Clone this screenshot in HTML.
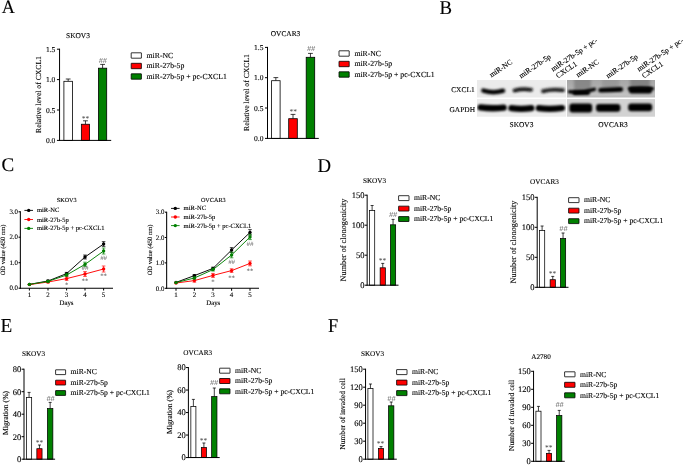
<!DOCTYPE html>
<html><head><meta charset="utf-8"><title>Figure</title>
<style>html,body{margin:0;padding:0;background:#fff;}body{width:685px;height:465px;overflow:hidden;font-family:"Liberation Serif",serif;}svg{display:block;will-change:transform;}text{text-rendering:geometricPrecision;stroke:#000;stroke-width:0.12px;}text.g{stroke:none;}</style>
</head><body>
<svg width="685" height="465" viewBox="0 0 685 465" font-family='"Liberation Serif", serif'>
<defs>
<filter id="b1" filterUnits="userSpaceOnUse" x="460" y="60" width="210" height="70"><feGaussianBlur stdDeviation="0.8"/></filter>
<filter id="b2" filterUnits="userSpaceOnUse" x="460" y="60" width="210" height="70"><feGaussianBlur stdDeviation="1.0"/></filter>
<filter id="b3" filterUnits="userSpaceOnUse" x="460" y="60" width="210" height="70"><feGaussianBlur stdDeviation="1.6"/></filter>
</defs>
<rect width="685" height="465" fill="#fff"/>
<text transform="translate(1.70,13.00) scale(1,1.035)" font-size="18.2">A</text>
<text transform="translate(439.40,14.00) scale(1,1.04)" font-size="18.8">B</text>
<text transform="translate(1.50,171.40) scale(1,1.02)" font-size="19.0">C</text>
<text transform="translate(317.50,171.70) scale(1,1.04)" font-size="18.8">D</text>
<text transform="translate(0.60,331.80) scale(1,1.03)" font-size="19.2">E</text>
<text transform="translate(327.90,331.80) scale(1,1.065)" font-size="18.4">F</text>
<line x1="68.17" y1="81.30" x2="68.17" y2="79.00" stroke="#000" stroke-width="0.75" stroke-linecap="butt"/>
<line x1="65.77" y1="79.00" x2="70.58" y2="79.00" stroke="#000" stroke-width="0.75" stroke-linecap="butt"/>
<rect x="63.90" y="81.30" width="8.55" height="59.10" fill="#fff" stroke="#000" stroke-width="0.8" />
<line x1="85.45" y1="124.25" x2="85.45" y2="120.80" stroke="#000" stroke-width="0.75" stroke-linecap="butt"/>
<line x1="83.05" y1="120.80" x2="87.85" y2="120.80" stroke="#000" stroke-width="0.75" stroke-linecap="butt"/>
<rect x="81.35" y="124.25" width="8.20" height="16.15" fill="#ff0000" stroke="#000" stroke-width="0.8" />
<line x1="102.60" y1="68.20" x2="102.60" y2="64.40" stroke="#000" stroke-width="0.75" stroke-linecap="butt"/>
<line x1="100.20" y1="64.40" x2="105.00" y2="64.40" stroke="#000" stroke-width="0.75" stroke-linecap="butt"/>
<rect x="98.50" y="68.20" width="8.20" height="72.20" fill="#008000" stroke="#000" stroke-width="0.8" />
<line x1="59.55" y1="48.70" x2="59.55" y2="140.90" stroke="#000" stroke-width="1.0" stroke-linecap="butt"/>
<line x1="59.05" y1="140.40" x2="111.20" y2="140.40" stroke="#000" stroke-width="1.0" stroke-linecap="butt"/>
<line x1="56.95" y1="49.20" x2="59.55" y2="49.20" stroke="#000" stroke-width="1.0" stroke-linecap="butt"/>
<text x="55.35" y="51.71" font-size="7.5" text-anchor="end" fill="#000" >1.5</text>
<line x1="56.95" y1="79.60" x2="59.55" y2="79.60" stroke="#000" stroke-width="1.0" stroke-linecap="butt"/>
<text x="55.35" y="82.11" font-size="7.5" text-anchor="end" fill="#000" >1.0</text>
<line x1="56.95" y1="110.00" x2="59.55" y2="110.00" stroke="#000" stroke-width="1.0" stroke-linecap="butt"/>
<text x="55.35" y="112.51" font-size="7.5" text-anchor="end" fill="#000" >0.5</text>
<line x1="56.95" y1="140.40" x2="59.55" y2="140.40" stroke="#000" stroke-width="1.0" stroke-linecap="butt"/>
<text x="55.35" y="142.91" font-size="7.5" text-anchor="end" fill="#000" >0.0</text>
<text x="78.00" y="38.20" font-size="7.4" text-anchor="middle" fill="#000" >SKOV3</text>
<text transform="translate(41.20,94.50) rotate(-90)" font-size="7.66" text-anchor="middle" fill="#000">Relative level of CXCL1</text>
<rect x="131.20" y="52.80" width="10.20" height="5.40" fill="#fff" stroke="#000" stroke-width="0.8" rx="0.2"/>
<text x="146.60" y="57.82" font-size="7.73" text-anchor="start" fill="#000" >miR-NC</text>
<rect x="131.20" y="63.30" width="10.20" height="5.40" fill="#ff0000" stroke="#000" stroke-width="0.8" rx="0.2"/>
<text x="146.60" y="68.32" font-size="7.73" text-anchor="start" fill="#000" >miR-27b-5p</text>
<rect x="131.20" y="73.80" width="10.20" height="5.40" fill="#008000" stroke="#000" stroke-width="0.8" rx="0.2"/>
<text x="146.60" y="78.82" font-size="7.73" text-anchor="start" fill="#000" >miR-27b-5p + pc-CXCL1</text>
<text x="85.40" y="120.60" font-size="7.5" text-anchor="middle" fill="#444"  class="g">**</text>
<text x="102.80" y="62.60" font-size="7.3" text-anchor="middle" fill="#555" font-style="italic" font-family="Liberation Sans, sans-serif" class="g">##</text>
<line x1="275.85" y1="80.70" x2="275.85" y2="77.60" stroke="#000" stroke-width="0.75" stroke-linecap="butt"/>
<line x1="273.45" y1="77.60" x2="278.25" y2="77.60" stroke="#000" stroke-width="0.75" stroke-linecap="butt"/>
<rect x="271.60" y="80.70" width="8.50" height="57.70" fill="#fff" stroke="#000" stroke-width="0.8" />
<line x1="293.00" y1="118.70" x2="293.00" y2="114.40" stroke="#000" stroke-width="0.75" stroke-linecap="butt"/>
<line x1="290.60" y1="114.40" x2="295.40" y2="114.40" stroke="#000" stroke-width="0.75" stroke-linecap="butt"/>
<rect x="288.70" y="118.70" width="8.60" height="19.70" fill="#ff0000" stroke="#000" stroke-width="0.8" />
<line x1="310.45" y1="57.30" x2="310.45" y2="53.40" stroke="#000" stroke-width="0.75" stroke-linecap="butt"/>
<line x1="308.05" y1="53.40" x2="312.85" y2="53.40" stroke="#000" stroke-width="0.75" stroke-linecap="butt"/>
<rect x="306.20" y="57.30" width="8.50" height="81.10" fill="#008000" stroke="#000" stroke-width="0.8" />
<line x1="267.50" y1="46.90" x2="267.50" y2="138.90" stroke="#000" stroke-width="1.0" stroke-linecap="butt"/>
<line x1="267.00" y1="138.40" x2="318.80" y2="138.40" stroke="#000" stroke-width="1.0" stroke-linecap="butt"/>
<line x1="265.00" y1="47.40" x2="267.50" y2="47.40" stroke="#000" stroke-width="1.0" stroke-linecap="butt"/>
<text x="263.40" y="49.91" font-size="7.5" text-anchor="end" fill="#000" >1.5</text>
<line x1="265.00" y1="77.70" x2="267.50" y2="77.70" stroke="#000" stroke-width="1.0" stroke-linecap="butt"/>
<text x="263.40" y="80.21" font-size="7.5" text-anchor="end" fill="#000" >1.0</text>
<line x1="265.00" y1="108.00" x2="267.50" y2="108.00" stroke="#000" stroke-width="1.0" stroke-linecap="butt"/>
<text x="263.40" y="110.51" font-size="7.5" text-anchor="end" fill="#000" >0.5</text>
<line x1="265.00" y1="138.40" x2="267.50" y2="138.40" stroke="#000" stroke-width="1.0" stroke-linecap="butt"/>
<text x="263.40" y="140.91" font-size="7.5" text-anchor="end" fill="#000" >0.0</text>
<text x="285.50" y="36.20" font-size="7.4" text-anchor="middle" fill="#000" >OVCAR3</text>
<text transform="translate(248.50,92.50) rotate(-90)" font-size="7.66" text-anchor="middle" fill="#000">Relative level of CXCL1</text>
<rect x="339.00" y="50.80" width="10.20" height="5.40" fill="#fff" stroke="#000" stroke-width="0.8" rx="0.2"/>
<text x="354.40" y="55.82" font-size="7.73" text-anchor="start" fill="#000" >miR-NC</text>
<rect x="339.00" y="61.30" width="10.20" height="5.40" fill="#ff0000" stroke="#000" stroke-width="0.8" rx="0.2"/>
<text x="354.40" y="66.32" font-size="7.73" text-anchor="start" fill="#000" >miR-27b-5p</text>
<rect x="339.00" y="71.80" width="10.20" height="5.40" fill="#008000" stroke="#000" stroke-width="0.8" rx="0.2"/>
<text x="354.40" y="76.82" font-size="7.73" text-anchor="start" fill="#000" >miR-27b-5p + pc-CXCL1</text>
<text x="293.20" y="113.60" font-size="7.5" text-anchor="middle" fill="#444"  class="g">**</text>
<text x="311.00" y="50.60" font-size="7.3" text-anchor="middle" fill="#555" font-style="italic" font-family="Liberation Sans, sans-serif" class="g">##</text>
<line x1="372.12" y1="210.60" x2="372.12" y2="205.50" stroke="#000" stroke-width="0.75" stroke-linecap="butt"/>
<line x1="370.62" y1="205.50" x2="373.62" y2="205.50" stroke="#000" stroke-width="0.75" stroke-linecap="butt"/>
<rect x="369.55" y="210.60" width="5.15" height="74.60" fill="#fff" stroke="#000" stroke-width="0.75" />
<line x1="382.75" y1="267.80" x2="382.75" y2="263.40" stroke="#000" stroke-width="0.75" stroke-linecap="butt"/>
<line x1="381.25" y1="263.40" x2="384.25" y2="263.40" stroke="#000" stroke-width="0.75" stroke-linecap="butt"/>
<rect x="380.15" y="267.80" width="5.20" height="17.40" fill="#ff0000" stroke="#000" stroke-width="0.75" />
<line x1="393.05" y1="224.80" x2="393.05" y2="219.40" stroke="#000" stroke-width="0.75" stroke-linecap="butt"/>
<line x1="391.55" y1="219.40" x2="394.55" y2="219.40" stroke="#000" stroke-width="0.75" stroke-linecap="butt"/>
<rect x="390.45" y="224.80" width="5.20" height="60.40" fill="#008000" stroke="#000" stroke-width="0.75" />
<line x1="367.15" y1="194.70" x2="367.15" y2="285.70" stroke="#000" stroke-width="1.0" stroke-linecap="butt"/>
<line x1="366.65" y1="285.20" x2="398.50" y2="285.20" stroke="#000" stroke-width="1.0" stroke-linecap="butt"/>
<line x1="364.70" y1="195.20" x2="367.15" y2="195.20" stroke="#000" stroke-width="1.0" stroke-linecap="butt"/>
<text x="364.40" y="198.05" font-size="8.5" text-anchor="end" fill="#000" >150</text>
<line x1="364.70" y1="225.20" x2="367.15" y2="225.20" stroke="#000" stroke-width="1.0" stroke-linecap="butt"/>
<text x="364.40" y="228.05" font-size="8.5" text-anchor="end" fill="#000" >100</text>
<line x1="364.70" y1="255.20" x2="367.15" y2="255.20" stroke="#000" stroke-width="1.0" stroke-linecap="butt"/>
<text x="364.40" y="258.05" font-size="8.5" text-anchor="end" fill="#000" >50</text>
<line x1="364.70" y1="285.20" x2="367.15" y2="285.20" stroke="#000" stroke-width="1.0" stroke-linecap="butt"/>
<text x="364.40" y="288.05" font-size="8.5" text-anchor="end" fill="#000" >0</text>
<text x="374.50" y="182.80" font-size="7.2" text-anchor="middle" fill="#000" >SKOV3</text>
<text transform="translate(346.40,240.00) rotate(-90)" font-size="8.24" text-anchor="middle" fill="#000">Number of clonogenicity</text>
<rect x="398.60" y="195.70" width="10.40" height="4.90" fill="#fff" stroke="#000" stroke-width="0.8" rx="0.2"/>
<text x="414.00" y="200.44" font-size="7.64" text-anchor="start" fill="#000" >miR-NC</text>
<rect x="398.60" y="206.15" width="10.40" height="4.90" fill="#ff0000" stroke="#000" stroke-width="0.8" rx="0.2"/>
<text x="414.00" y="210.89" font-size="7.64" text-anchor="start" fill="#000" >miR-27b-5p</text>
<rect x="398.60" y="216.60" width="10.40" height="4.90" fill="#008000" stroke="#000" stroke-width="0.8" rx="0.2"/>
<text x="414.00" y="221.34" font-size="7.64" text-anchor="start" fill="#000" >miR-27b-5p + pc-CXCL1</text>
<text x="382.60" y="263.40" font-size="7.5" text-anchor="middle" fill="#444"  class="g">**</text>
<text x="393.00" y="217.40" font-size="7.3" text-anchor="middle" fill="#555" font-style="italic" font-family="Liberation Sans, sans-serif" class="g">##</text>
<line x1="542.10" y1="230.60" x2="542.10" y2="226.00" stroke="#000" stroke-width="0.75" stroke-linecap="butt"/>
<line x1="540.60" y1="226.00" x2="543.60" y2="226.00" stroke="#000" stroke-width="0.75" stroke-linecap="butt"/>
<rect x="539.50" y="230.60" width="5.20" height="56.70" fill="#fff" stroke="#000" stroke-width="0.75" />
<line x1="552.75" y1="279.70" x2="552.75" y2="276.40" stroke="#000" stroke-width="0.75" stroke-linecap="butt"/>
<line x1="551.25" y1="276.40" x2="554.25" y2="276.40" stroke="#000" stroke-width="0.75" stroke-linecap="butt"/>
<rect x="550.15" y="279.70" width="5.20" height="7.60" fill="#ff0000" stroke="#000" stroke-width="0.75" />
<line x1="563.05" y1="238.60" x2="563.05" y2="233.00" stroke="#000" stroke-width="0.75" stroke-linecap="butt"/>
<line x1="561.55" y1="233.00" x2="564.55" y2="233.00" stroke="#000" stroke-width="0.75" stroke-linecap="butt"/>
<rect x="560.45" y="238.60" width="5.20" height="48.70" fill="#008000" stroke="#000" stroke-width="0.75" />
<line x1="537.20" y1="196.80" x2="537.20" y2="287.80" stroke="#000" stroke-width="1.0" stroke-linecap="butt"/>
<line x1="536.70" y1="287.30" x2="568.50" y2="287.30" stroke="#000" stroke-width="1.0" stroke-linecap="butt"/>
<line x1="534.75" y1="197.30" x2="537.20" y2="197.30" stroke="#000" stroke-width="1.0" stroke-linecap="butt"/>
<text x="534.45" y="200.15" font-size="8.5" text-anchor="end" fill="#000" >150</text>
<line x1="534.75" y1="227.30" x2="537.20" y2="227.30" stroke="#000" stroke-width="1.0" stroke-linecap="butt"/>
<text x="534.45" y="230.15" font-size="8.5" text-anchor="end" fill="#000" >100</text>
<line x1="534.75" y1="257.30" x2="537.20" y2="257.30" stroke="#000" stroke-width="1.0" stroke-linecap="butt"/>
<text x="534.45" y="260.15" font-size="8.5" text-anchor="end" fill="#000" >50</text>
<line x1="534.75" y1="287.30" x2="537.20" y2="287.30" stroke="#000" stroke-width="1.0" stroke-linecap="butt"/>
<text x="534.45" y="290.15" font-size="8.5" text-anchor="end" fill="#000" >0</text>
<text x="544.50" y="184.40" font-size="7.2" text-anchor="middle" fill="#000" >OVCAR3</text>
<text transform="translate(516.40,242.00) rotate(-90)" font-size="8.24" text-anchor="middle" fill="#000">Number of clonogenicity</text>
<rect x="568.60" y="197.70" width="10.40" height="4.90" fill="#fff" stroke="#000" stroke-width="0.8" rx="0.2"/>
<text x="584.00" y="202.44" font-size="7.64" text-anchor="start" fill="#000" >miR-NC</text>
<rect x="568.60" y="208.20" width="10.40" height="4.90" fill="#ff0000" stroke="#000" stroke-width="0.8" rx="0.2"/>
<text x="584.00" y="212.94" font-size="7.64" text-anchor="start" fill="#000" >miR-27b-5p</text>
<rect x="568.60" y="218.70" width="10.40" height="4.90" fill="#008000" stroke="#000" stroke-width="0.8" rx="0.2"/>
<text x="584.00" y="223.44" font-size="7.64" text-anchor="start" fill="#000" >miR-27b-5p + pc-CXCL1</text>
<text x="552.60" y="276.40" font-size="7.5" text-anchor="middle" fill="#444"  class="g">**</text>
<text x="563.40" y="231.40" font-size="7.3" text-anchor="middle" fill="#555" font-style="italic" font-family="Liberation Sans, sans-serif" class="g">##</text>
<line x1="29.07" y1="397.60" x2="29.07" y2="392.40" stroke="#000" stroke-width="0.75" stroke-linecap="butt"/>
<line x1="27.57" y1="392.40" x2="30.57" y2="392.40" stroke="#000" stroke-width="0.75" stroke-linecap="butt"/>
<rect x="26.50" y="397.60" width="5.15" height="61.60" fill="#fff" stroke="#000" stroke-width="0.75" />
<line x1="39.45" y1="448.70" x2="39.45" y2="445.00" stroke="#000" stroke-width="0.75" stroke-linecap="butt"/>
<line x1="37.95" y1="445.00" x2="40.95" y2="445.00" stroke="#000" stroke-width="0.75" stroke-linecap="butt"/>
<rect x="36.85" y="448.70" width="5.20" height="10.50" fill="#ff0000" stroke="#000" stroke-width="0.75" />
<line x1="50.15" y1="408.60" x2="50.15" y2="402.40" stroke="#000" stroke-width="0.75" stroke-linecap="butt"/>
<line x1="48.65" y1="402.40" x2="51.65" y2="402.40" stroke="#000" stroke-width="0.75" stroke-linecap="butt"/>
<rect x="47.45" y="408.60" width="5.40" height="50.60" fill="#008000" stroke="#000" stroke-width="0.75" />
<line x1="24.00" y1="368.70" x2="24.00" y2="459.70" stroke="#000" stroke-width="1.0" stroke-linecap="butt"/>
<line x1="23.50" y1="459.20" x2="55.10" y2="459.20" stroke="#000" stroke-width="1.0" stroke-linecap="butt"/>
<line x1="21.55" y1="369.20" x2="24.00" y2="369.20" stroke="#000" stroke-width="1.0" stroke-linecap="butt"/>
<text x="21.25" y="372.05" font-size="8.5" text-anchor="end" fill="#000" >80</text>
<line x1="21.55" y1="391.70" x2="24.00" y2="391.70" stroke="#000" stroke-width="1.0" stroke-linecap="butt"/>
<text x="21.25" y="394.55" font-size="8.5" text-anchor="end" fill="#000" >60</text>
<line x1="21.55" y1="414.20" x2="24.00" y2="414.20" stroke="#000" stroke-width="1.0" stroke-linecap="butt"/>
<text x="21.25" y="417.05" font-size="8.5" text-anchor="end" fill="#000" >40</text>
<line x1="21.55" y1="436.70" x2="24.00" y2="436.70" stroke="#000" stroke-width="1.0" stroke-linecap="butt"/>
<text x="21.25" y="439.55" font-size="8.5" text-anchor="end" fill="#000" >20</text>
<line x1="21.55" y1="459.20" x2="24.00" y2="459.20" stroke="#000" stroke-width="1.0" stroke-linecap="butt"/>
<text x="21.25" y="462.05" font-size="8.5" text-anchor="end" fill="#000" >0</text>
<text x="33.50" y="356.40" font-size="7.2" text-anchor="middle" fill="#000" >SKOV3</text>
<text transform="translate(8.40,413.00) rotate(-90)" font-size="7.7" text-anchor="middle" fill="#000">Migration (%)</text>
<rect x="55.60" y="369.80" width="10.00" height="4.80" fill="#fff" stroke="#000" stroke-width="0.8" rx="0.2"/>
<text x="70.60" y="374.49" font-size="7.64" text-anchor="start" fill="#000" >miR-NC</text>
<rect x="55.60" y="380.20" width="10.00" height="4.80" fill="#ff0000" stroke="#000" stroke-width="0.8" rx="0.2"/>
<text x="70.60" y="384.89" font-size="7.64" text-anchor="start" fill="#000" >miR-27b-5p</text>
<rect x="55.60" y="390.60" width="10.00" height="4.80" fill="#008000" stroke="#000" stroke-width="0.8" rx="0.2"/>
<text x="70.60" y="395.29" font-size="7.64" text-anchor="start" fill="#000" >miR-27b-5p + pc-CXCL1</text>
<text x="39.60" y="444.50" font-size="7.5" text-anchor="middle" fill="#444"  class="g">**</text>
<text x="50.60" y="400.80" font-size="7.3" text-anchor="middle" fill="#555" font-style="italic" font-family="Liberation Sans, sans-serif" class="g">##</text>
<line x1="193.38" y1="406.60" x2="193.38" y2="399.40" stroke="#000" stroke-width="0.75" stroke-linecap="butt"/>
<line x1="191.88" y1="399.40" x2="194.88" y2="399.40" stroke="#000" stroke-width="0.75" stroke-linecap="butt"/>
<rect x="190.85" y="406.60" width="5.05" height="50.95" fill="#fff" stroke="#000" stroke-width="0.75" />
<line x1="203.90" y1="447.55" x2="203.90" y2="443.00" stroke="#000" stroke-width="0.75" stroke-linecap="butt"/>
<line x1="202.40" y1="443.00" x2="205.40" y2="443.00" stroke="#000" stroke-width="0.75" stroke-linecap="butt"/>
<rect x="201.35" y="447.55" width="5.10" height="10.00" fill="#ff0000" stroke="#000" stroke-width="0.75" />
<line x1="214.30" y1="396.60" x2="214.30" y2="388.00" stroke="#000" stroke-width="0.75" stroke-linecap="butt"/>
<line x1="212.80" y1="388.00" x2="215.80" y2="388.00" stroke="#000" stroke-width="0.75" stroke-linecap="butt"/>
<rect x="211.65" y="396.60" width="5.30" height="60.95" fill="#008000" stroke="#000" stroke-width="0.75" />
<line x1="188.40" y1="367.05" x2="188.40" y2="458.05" stroke="#000" stroke-width="1.0" stroke-linecap="butt"/>
<line x1="187.90" y1="457.55" x2="219.70" y2="457.55" stroke="#000" stroke-width="1.0" stroke-linecap="butt"/>
<line x1="185.95" y1="367.55" x2="188.40" y2="367.55" stroke="#000" stroke-width="1.0" stroke-linecap="butt"/>
<text x="185.65" y="370.40" font-size="8.5" text-anchor="end" fill="#000" >80</text>
<line x1="185.95" y1="390.05" x2="188.40" y2="390.05" stroke="#000" stroke-width="1.0" stroke-linecap="butt"/>
<text x="185.65" y="392.90" font-size="8.5" text-anchor="end" fill="#000" >60</text>
<line x1="185.95" y1="412.55" x2="188.40" y2="412.55" stroke="#000" stroke-width="1.0" stroke-linecap="butt"/>
<text x="185.65" y="415.40" font-size="8.5" text-anchor="end" fill="#000" >40</text>
<line x1="185.95" y1="435.05" x2="188.40" y2="435.05" stroke="#000" stroke-width="1.0" stroke-linecap="butt"/>
<text x="185.65" y="437.90" font-size="8.5" text-anchor="end" fill="#000" >20</text>
<line x1="185.95" y1="457.55" x2="188.40" y2="457.55" stroke="#000" stroke-width="1.0" stroke-linecap="butt"/>
<text x="185.65" y="460.40" font-size="8.5" text-anchor="end" fill="#000" >0</text>
<text x="197.70" y="355.00" font-size="7.2" text-anchor="middle" fill="#000" >OVCAR3</text>
<text transform="translate(172.40,412.00) rotate(-90)" font-size="7.7" text-anchor="middle" fill="#000">Migration (%)</text>
<rect x="219.60" y="368.20" width="10.40" height="5.00" fill="#fff" stroke="#000" stroke-width="0.8" rx="0.2"/>
<text x="235.00" y="372.99" font-size="7.64" text-anchor="start" fill="#000" >miR-NC</text>
<rect x="219.60" y="378.50" width="10.40" height="5.00" fill="#ff0000" stroke="#000" stroke-width="0.8" rx="0.2"/>
<text x="235.00" y="383.29" font-size="7.64" text-anchor="start" fill="#000" >miR-27b-5p</text>
<rect x="219.60" y="388.80" width="10.40" height="5.00" fill="#008000" stroke="#000" stroke-width="0.8" rx="0.2"/>
<text x="235.00" y="393.59" font-size="7.64" text-anchor="start" fill="#000" >miR-27b-5p + pc-CXCL1</text>
<text x="203.60" y="442.60" font-size="7.5" text-anchor="middle" fill="#444"  class="g">**</text>
<text x="214.00" y="384.80" font-size="7.3" text-anchor="middle" fill="#555" font-style="italic" font-family="Liberation Sans, sans-serif" class="g">##</text>
<line x1="370.45" y1="388.60" x2="370.45" y2="384.00" stroke="#000" stroke-width="0.75" stroke-linecap="butt"/>
<line x1="368.95" y1="384.00" x2="371.95" y2="384.00" stroke="#000" stroke-width="0.75" stroke-linecap="butt"/>
<rect x="367.90" y="388.60" width="5.10" height="70.60" fill="#fff" stroke="#000" stroke-width="0.75" />
<line x1="381.05" y1="448.55" x2="381.05" y2="446.60" stroke="#000" stroke-width="0.75" stroke-linecap="butt"/>
<line x1="379.55" y1="446.60" x2="382.55" y2="446.60" stroke="#000" stroke-width="0.75" stroke-linecap="butt"/>
<rect x="378.50" y="448.55" width="5.10" height="10.65" fill="#ff0000" stroke="#000" stroke-width="0.75" />
<line x1="391.23" y1="405.80" x2="391.23" y2="402.00" stroke="#000" stroke-width="0.75" stroke-linecap="butt"/>
<line x1="389.73" y1="402.00" x2="392.73" y2="402.00" stroke="#000" stroke-width="0.75" stroke-linecap="butt"/>
<rect x="388.60" y="405.80" width="5.25" height="53.40" fill="#008000" stroke="#000" stroke-width="0.75" />
<line x1="365.55" y1="368.70" x2="365.55" y2="459.70" stroke="#000" stroke-width="1.0" stroke-linecap="butt"/>
<line x1="365.05" y1="459.20" x2="396.80" y2="459.20" stroke="#000" stroke-width="1.0" stroke-linecap="butt"/>
<line x1="363.10" y1="369.20" x2="365.55" y2="369.20" stroke="#000" stroke-width="1.0" stroke-linecap="butt"/>
<text x="362.80" y="372.05" font-size="8.5" text-anchor="end" fill="#000" >150</text>
<line x1="363.10" y1="387.20" x2="365.55" y2="387.20" stroke="#000" stroke-width="1.0" stroke-linecap="butt"/>
<text x="362.80" y="390.05" font-size="8.5" text-anchor="end" fill="#000" >120</text>
<line x1="363.10" y1="405.20" x2="365.55" y2="405.20" stroke="#000" stroke-width="1.0" stroke-linecap="butt"/>
<text x="362.80" y="408.05" font-size="8.5" text-anchor="end" fill="#000" >90</text>
<line x1="363.10" y1="423.20" x2="365.55" y2="423.20" stroke="#000" stroke-width="1.0" stroke-linecap="butt"/>
<text x="362.80" y="426.05" font-size="8.5" text-anchor="end" fill="#000" >60</text>
<line x1="363.10" y1="441.20" x2="365.55" y2="441.20" stroke="#000" stroke-width="1.0" stroke-linecap="butt"/>
<text x="362.80" y="444.05" font-size="8.5" text-anchor="end" fill="#000" >30</text>
<line x1="363.10" y1="459.20" x2="365.55" y2="459.20" stroke="#000" stroke-width="1.0" stroke-linecap="butt"/>
<text x="362.80" y="462.05" font-size="8.5" text-anchor="end" fill="#000" >0</text>
<text x="372.50" y="356.40" font-size="7.2" text-anchor="middle" fill="#000" >SKOV3</text>
<text transform="translate(345.40,414.00) rotate(-90)" font-size="7.56" text-anchor="middle" fill="#000">Number of invaded cell</text>
<rect x="396.60" y="369.60" width="10.40" height="5.00" fill="#fff" stroke="#000" stroke-width="0.8" rx="0.2"/>
<text x="412.00" y="374.39" font-size="7.64" text-anchor="start" fill="#000" >miR-NC</text>
<rect x="396.60" y="380.10" width="10.40" height="5.00" fill="#ff0000" stroke="#000" stroke-width="0.8" rx="0.2"/>
<text x="412.00" y="384.89" font-size="7.64" text-anchor="start" fill="#000" >miR-27b-5p</text>
<rect x="396.60" y="390.60" width="10.40" height="5.00" fill="#008000" stroke="#000" stroke-width="0.8" rx="0.2"/>
<text x="412.00" y="395.39" font-size="7.64" text-anchor="start" fill="#000" >miR-27b-5p + pc-CXCL1</text>
<text x="380.60" y="446.40" font-size="7.5" text-anchor="middle" fill="#444"  class="g">**</text>
<text x="391.40" y="400.60" font-size="7.3" text-anchor="middle" fill="#555" font-style="italic" font-family="Liberation Sans, sans-serif" class="g">##</text>
<line x1="538.45" y1="411.20" x2="538.45" y2="406.40" stroke="#000" stroke-width="0.75" stroke-linecap="butt"/>
<line x1="536.95" y1="406.40" x2="539.95" y2="406.40" stroke="#000" stroke-width="0.75" stroke-linecap="butt"/>
<rect x="535.90" y="411.20" width="5.10" height="50.10" fill="#fff" stroke="#000" stroke-width="0.75" />
<line x1="549.05" y1="453.35" x2="549.05" y2="450.40" stroke="#000" stroke-width="0.75" stroke-linecap="butt"/>
<line x1="547.55" y1="450.40" x2="550.55" y2="450.40" stroke="#000" stroke-width="0.75" stroke-linecap="butt"/>
<rect x="546.50" y="453.35" width="5.10" height="7.95" fill="#ff0000" stroke="#000" stroke-width="0.75" />
<line x1="559.23" y1="415.60" x2="559.23" y2="410.40" stroke="#000" stroke-width="0.75" stroke-linecap="butt"/>
<line x1="557.73" y1="410.40" x2="560.73" y2="410.40" stroke="#000" stroke-width="0.75" stroke-linecap="butt"/>
<rect x="556.60" y="415.60" width="5.25" height="45.70" fill="#008000" stroke="#000" stroke-width="0.75" />
<line x1="533.55" y1="370.80" x2="533.55" y2="461.80" stroke="#000" stroke-width="1.0" stroke-linecap="butt"/>
<line x1="533.05" y1="461.30" x2="564.80" y2="461.30" stroke="#000" stroke-width="1.0" stroke-linecap="butt"/>
<line x1="531.10" y1="371.30" x2="533.55" y2="371.30" stroke="#000" stroke-width="1.0" stroke-linecap="butt"/>
<text x="530.80" y="374.15" font-size="8.5" text-anchor="end" fill="#000" >150</text>
<line x1="531.10" y1="389.30" x2="533.55" y2="389.30" stroke="#000" stroke-width="1.0" stroke-linecap="butt"/>
<text x="530.80" y="392.15" font-size="8.5" text-anchor="end" fill="#000" >120</text>
<line x1="531.10" y1="407.30" x2="533.55" y2="407.30" stroke="#000" stroke-width="1.0" stroke-linecap="butt"/>
<text x="530.80" y="410.15" font-size="8.5" text-anchor="end" fill="#000" >90</text>
<line x1="531.10" y1="425.30" x2="533.55" y2="425.30" stroke="#000" stroke-width="1.0" stroke-linecap="butt"/>
<text x="530.80" y="428.15" font-size="8.5" text-anchor="end" fill="#000" >60</text>
<line x1="531.10" y1="443.30" x2="533.55" y2="443.30" stroke="#000" stroke-width="1.0" stroke-linecap="butt"/>
<text x="530.80" y="446.15" font-size="8.5" text-anchor="end" fill="#000" >30</text>
<line x1="531.10" y1="461.30" x2="533.55" y2="461.30" stroke="#000" stroke-width="1.0" stroke-linecap="butt"/>
<text x="530.80" y="464.15" font-size="8.5" text-anchor="end" fill="#000" >0</text>
<text x="541.00" y="358.60" font-size="7.2" text-anchor="middle" fill="#000" >A2780</text>
<text transform="translate(514.00,415.50) rotate(-90)" font-size="7.5" text-anchor="middle" fill="#000">Number of invaded cell</text>
<rect x="564.60" y="371.80" width="10.40" height="5.00" fill="#fff" stroke="#000" stroke-width="0.8" rx="0.2"/>
<text x="580.00" y="376.59" font-size="7.64" text-anchor="start" fill="#000" >miR-NC</text>
<rect x="564.60" y="382.30" width="10.40" height="5.00" fill="#ff0000" stroke="#000" stroke-width="0.8" rx="0.2"/>
<text x="580.00" y="387.09" font-size="7.64" text-anchor="start" fill="#000" >miR-27b-5p</text>
<rect x="564.60" y="392.80" width="10.40" height="5.00" fill="#008000" stroke="#000" stroke-width="0.8" rx="0.2"/>
<text x="580.00" y="397.59" font-size="7.64" text-anchor="start" fill="#000" >miR-27b-5p + pc-CXCL1</text>
<text x="548.70" y="450.20" font-size="7.5" text-anchor="middle" fill="#444"  class="g">**</text>
<text x="559.60" y="407.00" font-size="7.3" text-anchor="middle" fill="#555" font-style="italic" font-family="Liberation Sans, sans-serif" class="g">##</text>
<polyline points="29.40,284.40 48.00,281.00 66.60,273.60 85.00,257.00 103.60,244.00" fill="none" stroke="#000" stroke-width="0.95"/>
<circle cx="29.40" cy="284.40" r="1.7" fill="#000"/>
<line x1="48.00" y1="280.20" x2="48.00" y2="281.80" stroke="#000" stroke-width="0.7" stroke-linecap="butt"/>
<line x1="46.20" y1="280.20" x2="49.80" y2="280.20" stroke="#000" stroke-width="0.7" stroke-linecap="butt"/>
<line x1="46.20" y1="281.80" x2="49.80" y2="281.80" stroke="#000" stroke-width="0.7" stroke-linecap="butt"/>
<circle cx="48.00" cy="281.00" r="1.7" fill="#000"/>
<line x1="66.60" y1="272.40" x2="66.60" y2="274.80" stroke="#000" stroke-width="0.7" stroke-linecap="butt"/>
<line x1="64.80" y1="272.40" x2="68.40" y2="272.40" stroke="#000" stroke-width="0.7" stroke-linecap="butt"/>
<line x1="64.80" y1="274.80" x2="68.40" y2="274.80" stroke="#000" stroke-width="0.7" stroke-linecap="butt"/>
<circle cx="66.60" cy="273.60" r="1.7" fill="#000"/>
<line x1="85.00" y1="255.00" x2="85.00" y2="259.00" stroke="#000" stroke-width="0.7" stroke-linecap="butt"/>
<line x1="83.20" y1="255.00" x2="86.80" y2="255.00" stroke="#000" stroke-width="0.7" stroke-linecap="butt"/>
<line x1="83.20" y1="259.00" x2="86.80" y2="259.00" stroke="#000" stroke-width="0.7" stroke-linecap="butt"/>
<circle cx="85.00" cy="257.00" r="1.7" fill="#000"/>
<line x1="103.60" y1="241.60" x2="103.60" y2="246.40" stroke="#000" stroke-width="0.7" stroke-linecap="butt"/>
<line x1="101.80" y1="241.60" x2="105.40" y2="241.60" stroke="#000" stroke-width="0.7" stroke-linecap="butt"/>
<line x1="101.80" y1="246.40" x2="105.40" y2="246.40" stroke="#000" stroke-width="0.7" stroke-linecap="butt"/>
<circle cx="103.60" cy="244.00" r="1.7" fill="#000"/>
<polyline points="29.40,284.60 48.00,282.00 66.60,278.60 85.00,274.00 103.60,269.00" fill="none" stroke="#ff0000" stroke-width="0.95"/>
<circle cx="29.40" cy="284.60" r="1.7" fill="#ff0000"/>
<line x1="48.00" y1="281.20" x2="48.00" y2="282.80" stroke="#ff0000" stroke-width="0.7" stroke-linecap="butt"/>
<line x1="46.20" y1="281.20" x2="49.80" y2="281.20" stroke="#ff0000" stroke-width="0.7" stroke-linecap="butt"/>
<line x1="46.20" y1="282.80" x2="49.80" y2="282.80" stroke="#ff0000" stroke-width="0.7" stroke-linecap="butt"/>
<circle cx="48.00" cy="282.00" r="1.7" fill="#ff0000"/>
<line x1="66.60" y1="276.80" x2="66.60" y2="280.40" stroke="#ff0000" stroke-width="0.7" stroke-linecap="butt"/>
<line x1="64.80" y1="276.80" x2="68.40" y2="276.80" stroke="#ff0000" stroke-width="0.7" stroke-linecap="butt"/>
<line x1="64.80" y1="280.40" x2="68.40" y2="280.40" stroke="#ff0000" stroke-width="0.7" stroke-linecap="butt"/>
<circle cx="66.60" cy="278.60" r="1.7" fill="#ff0000"/>
<line x1="85.00" y1="271.60" x2="85.00" y2="276.40" stroke="#ff0000" stroke-width="0.7" stroke-linecap="butt"/>
<line x1="83.20" y1="271.60" x2="86.80" y2="271.60" stroke="#ff0000" stroke-width="0.7" stroke-linecap="butt"/>
<line x1="83.20" y1="276.40" x2="86.80" y2="276.40" stroke="#ff0000" stroke-width="0.7" stroke-linecap="butt"/>
<circle cx="85.00" cy="274.00" r="1.7" fill="#ff0000"/>
<line x1="103.60" y1="266.00" x2="103.60" y2="272.00" stroke="#ff0000" stroke-width="0.7" stroke-linecap="butt"/>
<line x1="101.80" y1="266.00" x2="105.40" y2="266.00" stroke="#ff0000" stroke-width="0.7" stroke-linecap="butt"/>
<line x1="101.80" y1="272.00" x2="105.40" y2="272.00" stroke="#ff0000" stroke-width="0.7" stroke-linecap="butt"/>
<circle cx="103.60" cy="269.00" r="1.7" fill="#ff0000"/>
<polyline points="29.40,284.40 48.00,281.40 66.60,275.00 85.00,264.40 103.60,251.00" fill="none" stroke="#008000" stroke-width="0.95"/>
<circle cx="29.40" cy="284.40" r="1.7" fill="#008000"/>
<line x1="48.00" y1="280.60" x2="48.00" y2="282.20" stroke="#008000" stroke-width="0.7" stroke-linecap="butt"/>
<line x1="46.20" y1="280.60" x2="49.80" y2="280.60" stroke="#008000" stroke-width="0.7" stroke-linecap="butt"/>
<line x1="46.20" y1="282.20" x2="49.80" y2="282.20" stroke="#008000" stroke-width="0.7" stroke-linecap="butt"/>
<circle cx="48.00" cy="281.40" r="1.7" fill="#008000"/>
<line x1="66.60" y1="273.80" x2="66.60" y2="276.20" stroke="#008000" stroke-width="0.7" stroke-linecap="butt"/>
<line x1="64.80" y1="273.80" x2="68.40" y2="273.80" stroke="#008000" stroke-width="0.7" stroke-linecap="butt"/>
<line x1="64.80" y1="276.20" x2="68.40" y2="276.20" stroke="#008000" stroke-width="0.7" stroke-linecap="butt"/>
<circle cx="66.60" cy="275.00" r="1.7" fill="#008000"/>
<line x1="85.00" y1="262.20" x2="85.00" y2="266.60" stroke="#008000" stroke-width="0.7" stroke-linecap="butt"/>
<line x1="83.20" y1="262.20" x2="86.80" y2="262.20" stroke="#008000" stroke-width="0.7" stroke-linecap="butt"/>
<line x1="83.20" y1="266.60" x2="86.80" y2="266.60" stroke="#008000" stroke-width="0.7" stroke-linecap="butt"/>
<circle cx="85.00" cy="264.40" r="1.7" fill="#008000"/>
<line x1="103.60" y1="248.00" x2="103.60" y2="254.00" stroke="#008000" stroke-width="0.7" stroke-linecap="butt"/>
<line x1="101.80" y1="248.00" x2="105.40" y2="248.00" stroke="#008000" stroke-width="0.7" stroke-linecap="butt"/>
<line x1="101.80" y1="254.00" x2="105.40" y2="254.00" stroke="#008000" stroke-width="0.7" stroke-linecap="butt"/>
<circle cx="103.60" cy="251.00" r="1.7" fill="#008000"/>
<line x1="20.35" y1="211.28" x2="20.35" y2="288.72" stroke="#000" stroke-width="1.05" stroke-linecap="butt"/>
<line x1="19.83" y1="288.20" x2="113.00" y2="288.20" stroke="#000" stroke-width="1.05" stroke-linecap="butt"/>
<line x1="18.55" y1="211.80" x2="20.35" y2="211.80" stroke="#000" stroke-width="1.05" stroke-linecap="butt"/>
<text x="18.05" y="214.01" font-size="6.9" text-anchor="end" fill="#000" >3.0</text>
<line x1="18.55" y1="237.20" x2="20.35" y2="237.20" stroke="#000" stroke-width="1.05" stroke-linecap="butt"/>
<text x="18.05" y="239.41" font-size="6.9" text-anchor="end" fill="#000" >2.0</text>
<line x1="18.55" y1="262.70" x2="20.35" y2="262.70" stroke="#000" stroke-width="1.05" stroke-linecap="butt"/>
<text x="18.05" y="264.91" font-size="6.9" text-anchor="end" fill="#000" >1.0</text>
<line x1="18.55" y1="288.20" x2="20.35" y2="288.20" stroke="#000" stroke-width="1.05" stroke-linecap="butt"/>
<text x="18.05" y="290.41" font-size="6.9" text-anchor="end" fill="#000" >0.0</text>
<line x1="29.40" y1="288.20" x2="29.40" y2="290.60" stroke="#000" stroke-width="1.05" stroke-linecap="butt"/>
<text x="29.40" y="297.00" font-size="6.9" text-anchor="middle" fill="#000" >1</text>
<line x1="48.00" y1="288.20" x2="48.00" y2="290.60" stroke="#000" stroke-width="1.05" stroke-linecap="butt"/>
<text x="48.00" y="297.00" font-size="6.9" text-anchor="middle" fill="#000" >2</text>
<line x1="66.60" y1="288.20" x2="66.60" y2="290.60" stroke="#000" stroke-width="1.05" stroke-linecap="butt"/>
<text x="66.60" y="297.00" font-size="6.9" text-anchor="middle" fill="#000" >3</text>
<line x1="85.00" y1="288.20" x2="85.00" y2="290.60" stroke="#000" stroke-width="1.05" stroke-linecap="butt"/>
<text x="85.00" y="297.00" font-size="6.9" text-anchor="middle" fill="#000" >4</text>
<line x1="103.60" y1="288.20" x2="103.60" y2="290.60" stroke="#000" stroke-width="1.05" stroke-linecap="butt"/>
<text x="103.60" y="297.00" font-size="6.9" text-anchor="middle" fill="#000" >5</text>
<text x="66.70" y="201.60" font-size="6.2" text-anchor="middle" fill="#000" >SKOV3</text>
<text x="66.50" y="305.00" font-size="6.8" text-anchor="middle" fill="#000" >Days</text>
<text transform="translate(5.40,250.00) rotate(-90)" font-size="6.5" text-anchor="middle" fill="#000">OD value (450 nm)</text>
<line x1="24.40" y1="210.40" x2="33.00" y2="210.40" stroke="#000" stroke-width="0.9" stroke-linecap="butt"/>
<circle cx="28.70" cy="210.40" r="1.7" fill="#000"/>
<text x="37.00" y="212.48" font-size="6.5" text-anchor="start" fill="#000" >miR-NC</text>
<line x1="24.40" y1="219.50" x2="33.00" y2="219.50" stroke="#ff0000" stroke-width="0.9" stroke-linecap="butt"/>
<circle cx="28.70" cy="219.50" r="1.7" fill="#ff0000"/>
<text x="37.00" y="221.58" font-size="6.5" text-anchor="start" fill="#000" >miR-27b-5p</text>
<line x1="24.40" y1="228.40" x2="33.00" y2="228.40" stroke="#008000" stroke-width="0.9" stroke-linecap="butt"/>
<circle cx="28.70" cy="228.40" r="1.7" fill="#008000"/>
<text x="37.00" y="230.48" font-size="6.5" text-anchor="start" fill="#000" >miR-27b-5p + pc-CXCL1</text>
<text x="66.60" y="287.20" font-size="6.8" text-anchor="middle" fill="#3a3a3a"  class="g">*</text>
<text x="85.00" y="282.60" font-size="6.8" text-anchor="middle" fill="#3a3a3a"  class="g">**</text>
<text x="85.00" y="270.20" font-size="6.2" text-anchor="middle" fill="#555" font-style="italic" font-family="Liberation Sans, sans-serif" class="g">##</text>
<text x="103.60" y="278.40" font-size="6.8" text-anchor="middle" fill="#3a3a3a"  class="g">**</text>
<text x="103.60" y="260.40" font-size="6.2" text-anchor="middle" fill="#555" font-style="italic" font-family="Liberation Sans, sans-serif" class="g">##</text>
<polyline points="176.00,282.40 194.40,275.60 213.00,268.40 231.60,250.00 250.00,232.40" fill="none" stroke="#000" stroke-width="0.95"/>
<circle cx="176.00" cy="282.40" r="1.7" fill="#000"/>
<line x1="194.40" y1="274.60" x2="194.40" y2="276.60" stroke="#000" stroke-width="0.7" stroke-linecap="butt"/>
<line x1="192.60" y1="274.60" x2="196.20" y2="274.60" stroke="#000" stroke-width="0.7" stroke-linecap="butt"/>
<line x1="192.60" y1="276.60" x2="196.20" y2="276.60" stroke="#000" stroke-width="0.7" stroke-linecap="butt"/>
<circle cx="194.40" cy="275.60" r="1.7" fill="#000"/>
<line x1="213.00" y1="267.20" x2="213.00" y2="269.60" stroke="#000" stroke-width="0.7" stroke-linecap="butt"/>
<line x1="211.20" y1="267.20" x2="214.80" y2="267.20" stroke="#000" stroke-width="0.7" stroke-linecap="butt"/>
<line x1="211.20" y1="269.60" x2="214.80" y2="269.60" stroke="#000" stroke-width="0.7" stroke-linecap="butt"/>
<circle cx="213.00" cy="268.40" r="1.7" fill="#000"/>
<line x1="231.60" y1="247.60" x2="231.60" y2="252.40" stroke="#000" stroke-width="0.7" stroke-linecap="butt"/>
<line x1="229.80" y1="247.60" x2="233.40" y2="247.60" stroke="#000" stroke-width="0.7" stroke-linecap="butt"/>
<line x1="229.80" y1="252.40" x2="233.40" y2="252.40" stroke="#000" stroke-width="0.7" stroke-linecap="butt"/>
<circle cx="231.60" cy="250.00" r="1.7" fill="#000"/>
<line x1="250.00" y1="229.60" x2="250.00" y2="235.20" stroke="#000" stroke-width="0.7" stroke-linecap="butt"/>
<line x1="248.20" y1="229.60" x2="251.80" y2="229.60" stroke="#000" stroke-width="0.7" stroke-linecap="butt"/>
<line x1="248.20" y1="235.20" x2="251.80" y2="235.20" stroke="#000" stroke-width="0.7" stroke-linecap="butt"/>
<circle cx="250.00" cy="232.40" r="1.7" fill="#000"/>
<polyline points="176.00,283.00 194.40,280.60 213.00,275.40 231.60,270.60 250.00,263.40" fill="none" stroke="#ff0000" stroke-width="0.95"/>
<circle cx="176.00" cy="283.00" r="1.7" fill="#ff0000"/>
<line x1="194.40" y1="279.00" x2="194.40" y2="282.20" stroke="#ff0000" stroke-width="0.7" stroke-linecap="butt"/>
<line x1="192.60" y1="279.00" x2="196.20" y2="279.00" stroke="#ff0000" stroke-width="0.7" stroke-linecap="butt"/>
<line x1="192.60" y1="282.20" x2="196.20" y2="282.20" stroke="#ff0000" stroke-width="0.7" stroke-linecap="butt"/>
<circle cx="194.40" cy="280.60" r="1.7" fill="#ff0000"/>
<line x1="213.00" y1="273.40" x2="213.00" y2="277.40" stroke="#ff0000" stroke-width="0.7" stroke-linecap="butt"/>
<line x1="211.20" y1="273.40" x2="214.80" y2="273.40" stroke="#ff0000" stroke-width="0.7" stroke-linecap="butt"/>
<line x1="211.20" y1="277.40" x2="214.80" y2="277.40" stroke="#ff0000" stroke-width="0.7" stroke-linecap="butt"/>
<circle cx="213.00" cy="275.40" r="1.7" fill="#ff0000"/>
<line x1="231.60" y1="268.80" x2="231.60" y2="272.40" stroke="#ff0000" stroke-width="0.7" stroke-linecap="butt"/>
<line x1="229.80" y1="268.80" x2="233.40" y2="268.80" stroke="#ff0000" stroke-width="0.7" stroke-linecap="butt"/>
<line x1="229.80" y1="272.40" x2="233.40" y2="272.40" stroke="#ff0000" stroke-width="0.7" stroke-linecap="butt"/>
<circle cx="231.60" cy="270.60" r="1.7" fill="#ff0000"/>
<line x1="250.00" y1="261.00" x2="250.00" y2="265.80" stroke="#ff0000" stroke-width="0.7" stroke-linecap="butt"/>
<line x1="248.20" y1="261.00" x2="251.80" y2="261.00" stroke="#ff0000" stroke-width="0.7" stroke-linecap="butt"/>
<line x1="248.20" y1="265.80" x2="251.80" y2="265.80" stroke="#ff0000" stroke-width="0.7" stroke-linecap="butt"/>
<circle cx="250.00" cy="263.40" r="1.7" fill="#ff0000"/>
<polyline points="176.00,282.60 194.40,278.00 213.00,269.60 231.60,255.00 250.00,237.00" fill="none" stroke="#008000" stroke-width="0.95"/>
<circle cx="176.00" cy="282.60" r="1.7" fill="#008000"/>
<line x1="194.40" y1="277.00" x2="194.40" y2="279.00" stroke="#008000" stroke-width="0.7" stroke-linecap="butt"/>
<line x1="192.60" y1="277.00" x2="196.20" y2="277.00" stroke="#008000" stroke-width="0.7" stroke-linecap="butt"/>
<line x1="192.60" y1="279.00" x2="196.20" y2="279.00" stroke="#008000" stroke-width="0.7" stroke-linecap="butt"/>
<circle cx="194.40" cy="278.00" r="1.7" fill="#008000"/>
<line x1="213.00" y1="268.20" x2="213.00" y2="271.00" stroke="#008000" stroke-width="0.7" stroke-linecap="butt"/>
<line x1="211.20" y1="268.20" x2="214.80" y2="268.20" stroke="#008000" stroke-width="0.7" stroke-linecap="butt"/>
<line x1="211.20" y1="271.00" x2="214.80" y2="271.00" stroke="#008000" stroke-width="0.7" stroke-linecap="butt"/>
<circle cx="213.00" cy="269.60" r="1.7" fill="#008000"/>
<line x1="231.60" y1="252.20" x2="231.60" y2="257.80" stroke="#008000" stroke-width="0.7" stroke-linecap="butt"/>
<line x1="229.80" y1="252.20" x2="233.40" y2="252.20" stroke="#008000" stroke-width="0.7" stroke-linecap="butt"/>
<line x1="229.80" y1="257.80" x2="233.40" y2="257.80" stroke="#008000" stroke-width="0.7" stroke-linecap="butt"/>
<circle cx="231.60" cy="255.00" r="1.7" fill="#008000"/>
<line x1="250.00" y1="234.40" x2="250.00" y2="239.60" stroke="#008000" stroke-width="0.7" stroke-linecap="butt"/>
<line x1="248.20" y1="234.40" x2="251.80" y2="234.40" stroke="#008000" stroke-width="0.7" stroke-linecap="butt"/>
<line x1="248.20" y1="239.60" x2="251.80" y2="239.60" stroke="#008000" stroke-width="0.7" stroke-linecap="butt"/>
<circle cx="250.00" cy="237.00" r="1.7" fill="#008000"/>
<line x1="166.65" y1="211.67" x2="166.65" y2="288.82" stroke="#000" stroke-width="1.05" stroke-linecap="butt"/>
<line x1="166.12" y1="288.30" x2="259.00" y2="288.30" stroke="#000" stroke-width="1.05" stroke-linecap="butt"/>
<line x1="164.85" y1="212.20" x2="166.65" y2="212.20" stroke="#000" stroke-width="1.05" stroke-linecap="butt"/>
<text x="164.35" y="214.41" font-size="6.9" text-anchor="end" fill="#000" >3.0</text>
<line x1="164.85" y1="237.50" x2="166.65" y2="237.50" stroke="#000" stroke-width="1.05" stroke-linecap="butt"/>
<text x="164.35" y="239.71" font-size="6.9" text-anchor="end" fill="#000" >2.0</text>
<line x1="164.85" y1="262.90" x2="166.65" y2="262.90" stroke="#000" stroke-width="1.05" stroke-linecap="butt"/>
<text x="164.35" y="265.11" font-size="6.9" text-anchor="end" fill="#000" >1.0</text>
<line x1="164.85" y1="288.30" x2="166.65" y2="288.30" stroke="#000" stroke-width="1.05" stroke-linecap="butt"/>
<text x="164.35" y="290.51" font-size="6.9" text-anchor="end" fill="#000" >0.0</text>
<line x1="176.00" y1="288.30" x2="176.00" y2="290.70" stroke="#000" stroke-width="1.05" stroke-linecap="butt"/>
<text x="176.00" y="297.10" font-size="6.9" text-anchor="middle" fill="#000" >1</text>
<line x1="194.40" y1="288.30" x2="194.40" y2="290.70" stroke="#000" stroke-width="1.05" stroke-linecap="butt"/>
<text x="194.40" y="297.10" font-size="6.9" text-anchor="middle" fill="#000" >2</text>
<line x1="213.00" y1="288.30" x2="213.00" y2="290.70" stroke="#000" stroke-width="1.05" stroke-linecap="butt"/>
<text x="213.00" y="297.10" font-size="6.9" text-anchor="middle" fill="#000" >3</text>
<line x1="231.60" y1="288.30" x2="231.60" y2="290.70" stroke="#000" stroke-width="1.05" stroke-linecap="butt"/>
<text x="231.60" y="297.10" font-size="6.9" text-anchor="middle" fill="#000" >4</text>
<line x1="250.00" y1="288.30" x2="250.00" y2="290.70" stroke="#000" stroke-width="1.05" stroke-linecap="butt"/>
<text x="250.00" y="297.10" font-size="6.9" text-anchor="middle" fill="#000" >5</text>
<text x="213.30" y="202.00" font-size="6.2" text-anchor="middle" fill="#000" >OVCAR3</text>
<text x="213.30" y="305.00" font-size="6.8" text-anchor="middle" fill="#000" >Days</text>
<text transform="translate(152.00,250.00) rotate(-90)" font-size="6.5" text-anchor="middle" fill="#000">OD value (450 nm)</text>
<line x1="171.00" y1="208.40" x2="179.60" y2="208.40" stroke="#000" stroke-width="0.9" stroke-linecap="butt"/>
<circle cx="175.30" cy="208.40" r="1.7" fill="#000"/>
<text x="183.60" y="210.48" font-size="6.5" text-anchor="start" fill="#000" >miR-NC</text>
<line x1="171.00" y1="217.00" x2="179.60" y2="217.00" stroke="#ff0000" stroke-width="0.9" stroke-linecap="butt"/>
<circle cx="175.30" cy="217.00" r="1.7" fill="#ff0000"/>
<text x="183.60" y="219.08" font-size="6.5" text-anchor="start" fill="#000" >miR-27b-5p</text>
<line x1="171.00" y1="225.60" x2="179.60" y2="225.60" stroke="#008000" stroke-width="0.9" stroke-linecap="butt"/>
<circle cx="175.30" cy="225.60" r="1.7" fill="#008000"/>
<text x="183.60" y="227.68" font-size="6.5" text-anchor="start" fill="#000" >miR-27b-5p + pc-CXCL1</text>
<text x="213.00" y="284.20" font-size="6.8" text-anchor="middle" fill="#3a3a3a"  class="g">*</text>
<text x="231.60" y="280.00" font-size="6.8" text-anchor="middle" fill="#3a3a3a"  class="g">**</text>
<text x="231.60" y="264.40" font-size="6.2" text-anchor="middle" fill="#555" font-style="italic" font-family="Liberation Sans, sans-serif" class="g">##</text>
<text x="250.00" y="273.00" font-size="6.8" text-anchor="middle" fill="#3a3a3a"  class="g">**</text>
<text x="250.00" y="246.00" font-size="6.2" text-anchor="middle" fill="#555" font-style="italic" font-family="Liberation Sans, sans-serif" class="g">##</text>
<clipPath id="cs1"><rect x="477" y="80" width="89.2" height="17.5"/></clipPath>
<clipPath id="cs2"><rect x="477" y="99.1" width="89.2" height="17.6"/></clipPath>
<clipPath id="co1"><rect x="567" y="80" width="88" height="17.5"/></clipPath>
<clipPath id="co2"><rect x="567" y="99.1" width="88" height="17.6"/></clipPath>
<linearGradient id="go1" x1="0" y1="0" x2="0" y2="1"><stop offset="0" stop-color="#a6a6a6"/><stop offset="0.55" stop-color="#b2b2b2"/><stop offset="0.8" stop-color="#c2c2c2"/><stop offset="1" stop-color="#bcbcbc"/></linearGradient>
<rect x="477" y="80" width="89.2" height="17.5" fill="#ebebeb"/>
<rect x="477" y="99.1" width="89.2" height="17.6" fill="#ededed"/>
<rect x="567" y="80" width="88" height="17.5" fill="url(#go1)"/>
<rect x="567" y="99.1" width="88" height="17.6" fill="#d2d2d2"/>
<g clip-path="url(#cs1)">
<path d="M483.2,90.6 Q493.0,93.6 503.2,90.8" fill="none" stroke="#9a9a9a" stroke-width="5.6" stroke-linecap="round" opacity="0.55" filter="url(#b2)"/>
<path d="M483.4,90.6 Q493.0,93.6 503.0,90.8" fill="none" stroke="#050505" stroke-width="4.0" stroke-linecap="round" opacity="1" filter="url(#b1)"/>
<path d="M514.4,90.2 Q522.0,88.2 531.2,89.4" fill="none" stroke="#9a9a9a" stroke-width="5.0" stroke-linecap="round" opacity="0.5" filter="url(#b2)"/>
<path d="M514.6,90.6 Q522.0,88.4 531.0,89.8" fill="none" stroke="#161616" stroke-width="3.3" stroke-linecap="round" opacity="1" filter="url(#b1)"/>
<path d="M543.0,90.8 Q552.0,88.6 563.0,89.8" fill="none" stroke="#9a9a9a" stroke-width="5.4" stroke-linecap="round" opacity="0.5" filter="url(#b2)"/>
<path d="M543.2,91.2 Q552.0,88.8 562.8,90.2" fill="none" stroke="#222" stroke-width="3.5" stroke-linecap="round" opacity="1" filter="url(#b1)"/>
</g>
<g clip-path="url(#cs2)">
<path d="M480.6,107.4 Q492.0,109.0 503.6,107.6" fill="none" stroke="#000" stroke-width="6.4" stroke-linecap="round" opacity="1" filter="url(#b1)"/>
<path d="M511.4,108.2 Q521.0,109.4 531.4,108.2" fill="none" stroke="#000" stroke-width="6.2" stroke-linecap="round" opacity="1" filter="url(#b1)"/>
<path d="M538.8,108.2 Q550.0,109.6 562.0,108.0" fill="none" stroke="#000" stroke-width="6.2" stroke-linecap="round" opacity="1" filter="url(#b1)"/>
</g>
<g clip-path="url(#co1)">
<rect x="574" y="78" width="17" height="13" fill="#7d7d7d" opacity="0.75" filter="url(#b3)"/>
<rect x="602" y="78" width="17" height="11" fill="#8c8c8c" opacity="0.55" filter="url(#b3)"/>
<rect x="630" y="78" width="20" height="11" fill="#7a7a7a" opacity="0.8" filter="url(#b3)"/>
<path d="M569.6,91.8 Q582.0,93.4 594.2,89.4" fill="none" stroke="#000" stroke-width="3.6" stroke-linecap="round" opacity="1" filter="url(#b1)"/>
<rect x="572.5" y="90.4" width="17.5" height="4.6" rx="2.2" ry="2.2" fill="#000" opacity="1" filter="url(#b1)"/>
<path d="M600.6,90.2 Q610.0,90.2 620.8,89.4" fill="none" stroke="#000" stroke-width="4.6" stroke-linecap="round" opacity="1" filter="url(#b1)"/>
<rect x="629.0" y="87.2" width="23.0" height="6.2" rx="2.6" ry="2.6" fill="#000" opacity="1" filter="url(#b1)"/>
<path d="M629.4,88.6 Q641.0,87.4 652.4,88.6" fill="none" stroke="#000" stroke-width="3.2" stroke-linecap="round" opacity="1" filter="url(#b1)"/>
</g>
<g clip-path="url(#co2)">
<rect x="569.4" y="103.6" width="22.8" height="9.0" rx="3.0" ry="3.0" fill="#000" opacity="1" filter="url(#b1)"/>
<rect x="596.0" y="104.0" width="24.4" height="7.8" rx="3.0" ry="3.0" fill="#000" opacity="1" filter="url(#b1)"/>
<rect x="628.2" y="103.6" width="24.0" height="7.6" rx="3.0" ry="3.0" fill="#000" opacity="1" filter="url(#b1)"/>
</g>
<text x="474.60" y="92.00" font-size="7.4" text-anchor="end" fill="#000" >CXCL1</text>
<text x="475.00" y="112.00" font-size="7.4" text-anchor="end" fill="#000" >GAPDH</text>
<text x="521.50" y="127.00" font-size="7.4" text-anchor="middle" fill="#000" >SKOV3</text>
<text x="613.00" y="127.00" font-size="7.4" text-anchor="middle" fill="#000" >OVCAR3</text>
<text transform="translate(491.5,77.6) rotate(-34)" font-size="7.5">miR-NC</text>
<text transform="translate(521.0,78.4) rotate(-34)" font-size="7.5">miR-27b-5p</text>
<text transform="translate(553.0,71.8) rotate(-34)" font-size="7.5">miR-27b-5p + pc-</text>
<text transform="translate(558.0,78.4) rotate(-34)" font-size="7.5">CXCL1</text>
<text transform="translate(578.0,77.6) rotate(-34)" font-size="7.5">miR-NC</text>
<text transform="translate(608.0,78.4) rotate(-34)" font-size="7.5">miR-27b-5p</text>
<text transform="translate(639.0,71.8) rotate(-34)" font-size="7.5">miR-27b-5p + pc-</text>
<text transform="translate(644.0,78.4) rotate(-34)" font-size="7.5">CXCL1</text>
</svg>
</body></html>
